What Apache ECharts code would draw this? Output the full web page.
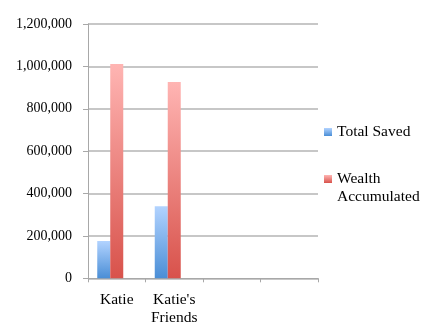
<!DOCTYPE html>
<html>
<head>
<meta charset="utf-8">
<script src="https://cdn.jsdelivr.net/npm/echarts@6/dist/echarts.min.js"></script>
<style>html,body{margin:0;padding:0;background:#fff;}#c{width:440px;height:333px;}</style>
</head>
<body>
<div id="c"></div>
<script>
var categories = ["Katie", "Katie's Friends", "", ""];
var totalSaved = [176000, 340000, null, null];
var wealthAccumulated = [1011000, 926000, null, null];
var series3 = [0, 0, null, null];
var yTicks = { min: 0, max: 1200000, interval: 200000 };

var FONT = 'Liberation Serif';
function grad(top, bottom) {
  return { type: 'linear', x: 0, y: 0, x2: 0, y2: 1,
    colorStops: [{ offset: 0, color: top }, { offset: 1, color: bottom }] };
}
var blue = grad('#b2d3ff', '#4a8ed6');
var red = grad('#ffb5b3', '#d8524b');

var chart = echarts.init(document.getElementById('c'));
chart.setOption({
  animation: false,
  backgroundColor: '#fff',
  grid: { left: 88, right: 122, top: 24, bottom: 54.7, containLabel: false },
  legend: [
    { data: ['Total Saved'], orient: 'vertical', left: 324, top: 123, padding: 0,
      icon: 'rect', itemWidth: 8, itemHeight: 8, itemGap: 0,
      textStyle: { fontFamily: FONT, fontSize: 15.5, color: '#000', lineHeight: 18 } },
    { data: ['Wealth Accumulated'], orient: 'vertical', left: 324, top: 152, padding: 0,
      icon: 'rect', itemWidth: 8, itemHeight: 8, itemGap: 0,
      formatter: function (n) { return '\n' + n.replace(' ', '\n'); },
      textStyle: { fontFamily: FONT, fontSize: 15.5, color: '#000', lineHeight: 18 } }
  ],
  xAxis: {
    type: 'category',
    data: categories,
    axisLine: { lineStyle: { color: '#a8a8a8', width: 1 } },
    axisTick: { show: true, length: 4, lineStyle: { color: '#a8a8a8' } },
    axisLabel: { margin: 13, fontFamily: FONT, fontSize: 15.5, color: '#000', lineHeight: 18,
      interval: 0, formatter: function (v) { return v.replace(' ', '\n'); } },
    splitLine: { show: false }
  },
  yAxis: {
    type: 'value',
    min: yTicks.min, max: yTicks.max, interval: yTicks.interval,
    axisLine: { show: true, lineStyle: { color: '#a8a8a8', width: 1 } },
    axisTick: { show: true, length: 5, lineStyle: { color: '#a8a8a8' } },
    axisLabel: { margin: 16, fontFamily: FONT, fontSize: 14, color: '#000',
      formatter: function (v) { return v.toLocaleString('en-US'); } },
    splitLine: { show: true, lineStyle: { color: '#b4b4b4', width: 1.5 } }
  },
  series: [
    { name: 'Total Saved', type: 'bar', data: totalSaved, barWidth: 13, barGap: '0%',
      itemStyle: { color: blue } },
    { name: 'Wealth Accumulated', type: 'bar', data: wealthAccumulated, barWidth: 13, barGap: '0%',
      itemStyle: { color: red } },
    { name: 'Series 3', type: 'bar', data: series3, barWidth: 13, barGap: '0%',
      itemStyle: { color: '#9bbb59' } }
  ]
});
</script>
</body>
</html>
